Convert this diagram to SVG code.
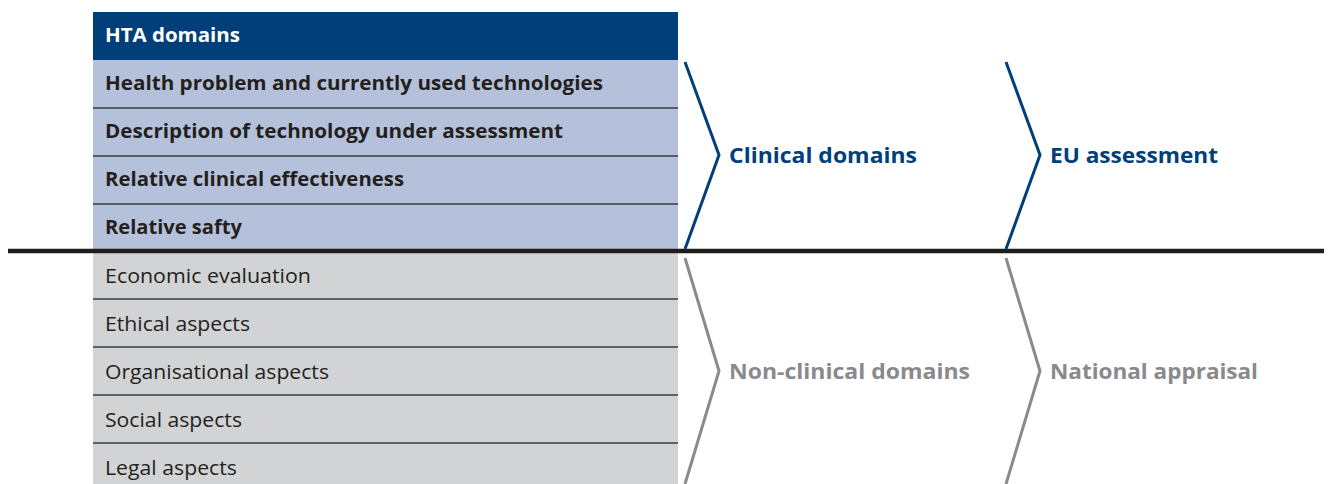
<svg xmlns="http://www.w3.org/2000/svg" width="1328" height="484" viewBox="0 0 1328 484">
  <style>
    .hdr { fill: #003f7a; }
    .clin { fill: #b5c0db; }
    .nonc { fill: #d2d3d5; }
    .sep { stroke: #3a3a3c; stroke-width: 1.5; }
    .t { font-family: "Open Sans", "Liberation Sans", sans-serif; font-size: 20.5px; fill: #231f20; }
    .b { font-weight: bold; font-size: 19px; }
    .w { fill: #ffffff; }
    .lbl { font-family: "Open Sans", "Liberation Sans", sans-serif; font-size: 21px; font-weight: bold; }
    .blue { fill: #003f7a; }
    .grey { fill: #8a8a8c; }
    .chev { fill: none; stroke-width: 3; stroke-linejoin: miter; }
    .chev-blue { stroke: #003f7a; }
    .chev-grey { stroke: #8a8a8c; }
  </style>

  <rect width="1328" height="484" fill="#ffffff"/>

  <!-- Domain table -->
  <g id="table-header">
    <rect class="hdr" x="93" y="12" width="585" height="48"/>
    <text class="t b w" x="105" y="42" textLength="135" lengthAdjust="spacingAndGlyphs">HTA domains</text>
  </g>

  <g id="row-health-problem">
    <rect class="clin" x="93" y="60" width="585" height="48"/>
    <text class="t b" x="105" y="90" textLength="498" lengthAdjust="spacingAndGlyphs">Health problem and currently used technologies</text>
  </g>
  <g id="row-description">
    <rect class="clin" x="93" y="108" width="585" height="48"/>
    <text class="t b" x="105" y="138" textLength="458" lengthAdjust="spacingAndGlyphs">Description of technology under assessment</text>
  </g>
  <g id="row-effectiveness">
    <rect class="clin" x="93" y="156" width="585" height="48"/>
    <text class="t b" x="105" y="186" textLength="299" lengthAdjust="spacingAndGlyphs">Relative clinical effectiveness</text>
  </g>
  <g id="row-safety">
    <rect class="clin" x="93" y="204" width="585" height="46"/>
    <text class="t b" x="105" y="234" textLength="137" lengthAdjust="spacingAndGlyphs">Relative safty</text>
  </g>

  <g id="row-economic">
    <rect class="nonc" x="93" y="252" width="585" height="47"/>
    <text class="t" x="105" y="283" textLength="206" lengthAdjust="spacingAndGlyphs">Economic evaluation</text>
  </g>
  <g id="row-ethical">
    <rect class="nonc" x="93" y="299" width="585" height="48"/>
    <text class="t" x="105" y="331" textLength="145" lengthAdjust="spacingAndGlyphs">Ethical aspects</text>
  </g>
  <g id="row-organisational">
    <rect class="nonc" x="93" y="347" width="585" height="48"/>
    <text class="t" x="105" y="379" textLength="224" lengthAdjust="spacingAndGlyphs">Organisational aspects</text>
  </g>
  <g id="row-social">
    <rect class="nonc" x="93" y="395" width="585" height="48"/>
    <text class="t" x="105" y="427" textLength="137" lengthAdjust="spacingAndGlyphs">Social aspects</text>
  </g>
  <g id="row-legal">
    <rect class="nonc" x="93" y="443" width="585" height="41"/>
    <text class="t" x="105" y="475" textLength="132" lengthAdjust="spacingAndGlyphs">Legal aspects</text>
  </g>

  <!-- Row separators and the clinical / non-clinical divide -->
  <g id="connectors">
    <line class="sep" x1="93" y1="108" x2="678" y2="108"/>
    <line class="sep" x1="93" y1="156" x2="678" y2="156"/>
    <line class="sep" x1="93" y1="204" x2="678" y2="204"/>
    <line class="sep" x1="93" y1="299" x2="678" y2="299"/>
    <line class="sep" x1="93" y1="347" x2="678" y2="347"/>
    <line class="sep" x1="93" y1="395" x2="678" y2="395"/>
    <line class="sep" x1="93" y1="443" x2="678" y2="443"/>
    <line x1="8" y1="251" x2="1324" y2="251" stroke="#1d1d1b" stroke-width="4.5"/>

    <polyline class="chev chev-blue" points="685,62 719,155 685,249"/>
    <polyline class="chev chev-blue" points="1006,62 1040,155 1006,249"/>
    <polyline class="chev chev-grey" points="685,258 719,371 685,484"/>
    <polyline class="chev chev-grey" points="1006,258 1040,371 1006,484"/>
  </g>

  <g id="label-clinical">
    <text class="lbl blue" x="729" y="163" textLength="188" lengthAdjust="spacingAndGlyphs">Clinical domains</text>
  </g>
  <g id="label-eu">
    <text class="lbl blue" x="1050" y="163" textLength="168" lengthAdjust="spacingAndGlyphs">EU assessment</text>
  </g>
  <g id="label-nonclinical">
    <text class="lbl grey" x="729" y="379" textLength="241" lengthAdjust="spacingAndGlyphs">Non-clinical domains</text>
  </g>
  <g id="label-national">
    <text class="lbl grey" x="1050" y="379" textLength="208" lengthAdjust="spacingAndGlyphs">National appraisal</text>
  </g>
</svg>
